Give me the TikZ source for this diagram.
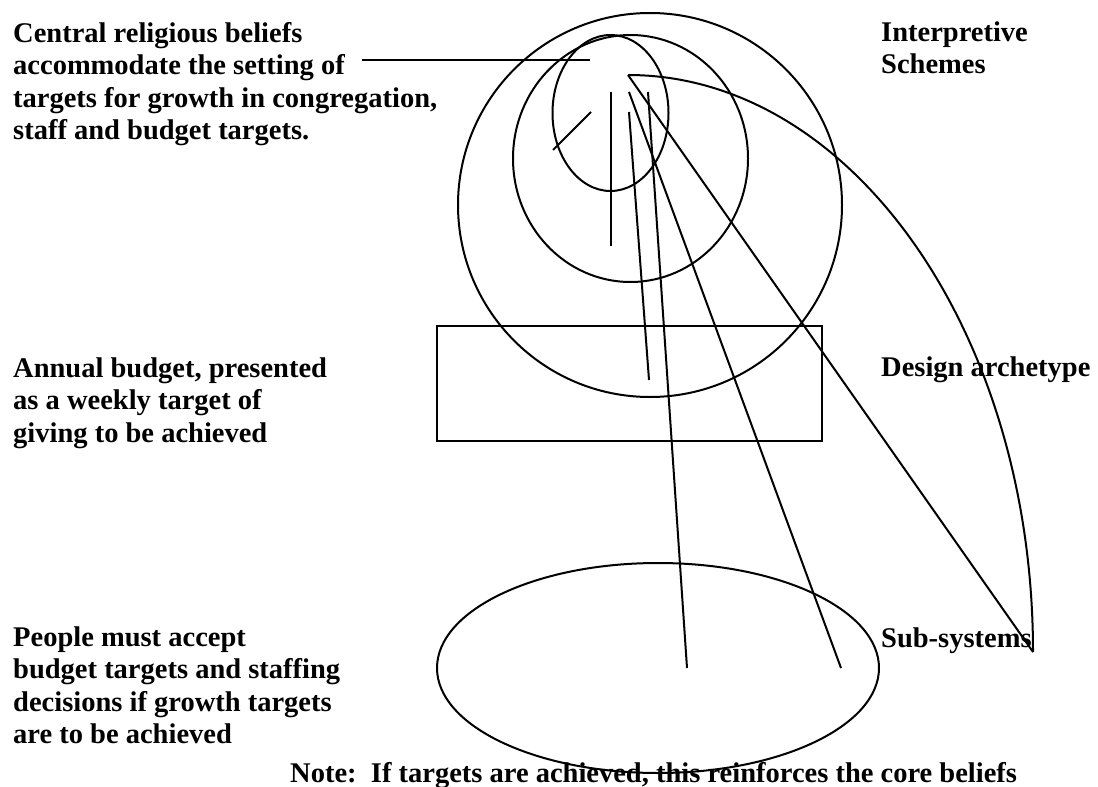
\documentclass[tikz,border=0pt]{standalone}
\usepackage{fontspec}
\setmainfont{Liberation Serif}
\begin{document}
\begin{tikzpicture}[x=1pt,y=-1pt,
  shape line/.style={line width=2pt, black},
  label text/.style={anchor=north west, inner sep=0pt, align=left,
    font=\bfseries\fontsize{28.5}{32.5}\selectfont}]
\useasboundingbox[fill=white] (0,0) rectangle (1098,787);

% shapes
\draw[shape line] (650,205) circle [radius=192pt];
\draw[shape line] (630.5,158.5) ellipse [x radius=117.5pt, y radius=123.5pt];
\draw[shape line] (610.5,113) ellipse [x radius=58pt, y radius=78pt];
\draw[shape line] (437,326) rectangle (822,441);
\draw[shape line] (658,668) ellipse [x radius=221pt, y radius=105pt];

% line end points
\coordinate (hL) at (362,60);
\coordinate (hR) at (590,60);
\coordinate (gA) at (591,112);
\coordinate (gB) at (553,150);
\coordinate (fA) at (610.5,92);
\coordinate (fB) at (610.5,246);
\coordinate (aA) at (629,112);
\coordinate (aB) at (649,380);
\coordinate (bA) at (648,92);
\coordinate (bB) at (687,668);
\coordinate (cA) at (629,92);
\coordinate (cB) at (841,668);
\coordinate (top) at (628,75);
\coordinate (sub) at (1033,652);

\draw[shape line] (hL) -- (hR);
\draw[shape line] (gA) -- (gB);
\draw[shape line] (fA) -- (fB);
\draw[shape line] (aA) -- (aB);
\draw[shape line] (bA) -- (bB);
\draw[shape line] (cA) -- (cB);
\draw[shape line] (top) -- (sub);
\draw[shape line] (top) arc[start angle=90, end angle=0, x radius=405pt, y radius=577pt];

% texts
\node[label text] (beliefs) at (13,19.25) {\strut Central religious beliefs\\accommodate the setting of\\targets for growth in congregation,\\staff and budget targets.};
\node[label text] (schemes) at (881,18.25) {\strut Interpretive\\Schemes};
\node[label text] (budget) at (13,354.25) {\strut Annual budget, presented\\as a weekly target of\\giving to be achieved};
\node[label text] (design) at (881,353.25) {\strut Design archetype};
\node[label text] (people) at (13,623.25) {\strut People must accept\\budget targets and staffing\\decisions if growth targets\\are to be achieved};
\node[label text] (subsys) at (881,624.25) {\strut Sub-systems};
\node[label text] (note) at (290,759.25) {\strut Note:\ \ If targets are achieved, this reinforces the core beliefs};
\end{tikzpicture}
\end{document}
